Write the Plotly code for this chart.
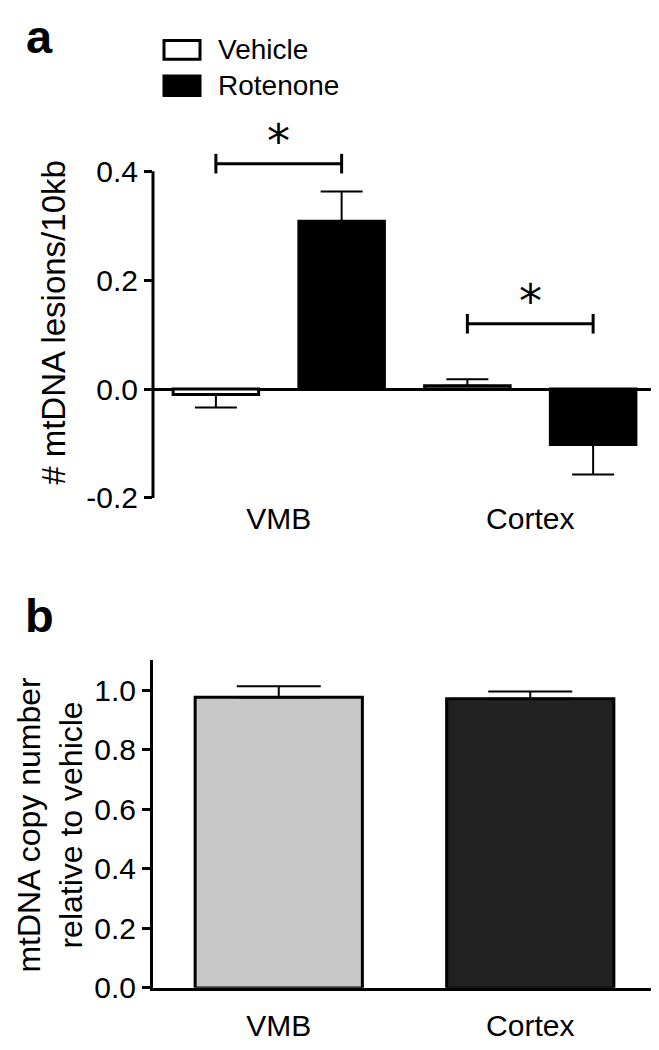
import plotly.graph_objects as go

# ---------------- data ----------------
regions = ["VMB", "Cortex"]
groups = ["Vehicle", "Rotenone"]

# panel a: mtDNA lesions / 10kb
lesions_vehicle = [-0.010, 0.006]
lesions_vehicle_err = [0.024, 0.012]
lesions_rotenone = [0.308, -0.102]
lesions_rotenone_err = [0.055, 0.055]
lesion_ticks = [-0.2, 0.0, 0.2, 0.4]
lesion_ticktext = ["-0.2", "0.0", "0.2", "0.4"]
sig_bracket_y = [0.414, 0.12]   # significance bracket heights per region

# panel b: mtDNA copy number relative to vehicle
copy_number = [0.976, 0.971]
copy_number_err = [0.037, 0.024]
copy_ticks = [0.0, 0.2, 0.4, 0.6, 0.8, 1.0]
copy_ticktext = ["0.0", "0.2", "0.4", "0.6", "0.8", "1.0"]

# ---------------- styling ----------------
W, H = 659, 1050
FONT = "Liberation Sans, Arial, Helvetica, sans-serif"
BLACK = "#000000"


def px(xp):
    return xp / W


def py(yp):
    return 1 - yp / H


def one_sided(vals, errs):
    up = [e if v >= 0 else 0 for v, e in zip(vals, errs)]
    down = [e if v < 0 else 0 for v, e in zip(vals, errs)]
    return up, down


fig = go.Figure()

vu, vd = one_sided(lesions_vehicle, lesions_vehicle_err)
fig.add_trace(go.Bar(
    x=regions, y=lesions_vehicle, name=groups[0],
    marker=dict(color="white", line=dict(color=BLACK, width=3)),
    error_y=dict(type="data", symmetric=False, array=vu, arrayminus=vd,
                 color=BLACK, thickness=2, width=21),
    xaxis="x", yaxis="y", showlegend=False,
))
ru, rd = one_sided(lesions_rotenone, lesions_rotenone_err)
fig.add_trace(go.Bar(
    x=regions, y=lesions_rotenone, name=groups[1],
    marker=dict(color=BLACK, line=dict(color=BLACK, width=3)),
    error_y=dict(type="data", symmetric=False, array=ru, arrayminus=rd,
                 color=BLACK, thickness=2, width=21),
    xaxis="x", yaxis="y", showlegend=False,
))

fig.add_trace(go.Bar(
    x=regions, y=copy_number, width=0.665,
    marker=dict(color=["#c8c8c8", "#222222"], line=dict(color=BLACK, width=3)),
    error_y=dict(type="data", symmetric=False, array=copy_number_err,
                 arrayminus=[0, 0], color=BLACK, thickness=2, width=42),
    xaxis="x2", yaxis="y2", showlegend=False,
))

x_dom = [px(145), px(648)]
tickfont = dict(family=FONT, size=30, color=BLACK)

fig.update_layout(
    width=W, height=H,
    margin=dict(l=0, r=0, t=0, b=0),
    paper_bgcolor="white", plot_bgcolor="white",
    barmode="group", bargap=0, bargroupgap=0.32,
    font=dict(family=FONT, color=BLACK),
    xaxis=dict(domain=x_dom, anchor="y", range=[-0.5, 1.5],
               showline=False, ticks="", showgrid=False, zeroline=False,
               tickfont=tickfont, ticklabelstandoff=0),
    yaxis=dict(domain=[py(498), py(138.3)], anchor="x", range=[-0.2, 0.45],
               tickvals=lesion_ticks, ticktext=lesion_ticktext,
               showline=False, ticks="outside", ticklen=8, tickwidth=3,
               tickcolor=BLACK, showgrid=False,
               zeroline=True, zerolinewidth=3, zerolinecolor=BLACK,
               tickfont=tickfont),
    xaxis2=dict(domain=x_dom, anchor="y2", range=[-0.5, 1.5],
                showline=True, linewidth=3, linecolor=BLACK, ticks="",
                showgrid=False, zeroline=False, tickfont=tickfont,
                ticklabelstandoff=9),
    yaxis2=dict(domain=[py(996), py(663)], anchor="x2", range=[0, 1.1],
                tickvals=copy_ticks, ticktext=copy_ticktext,
                showline=True, linewidth=3, linecolor=BLACK,
                ticks="outside", ticklen=8, tickwidth=3, tickcolor=BLACK,
                showgrid=False, zeroline=False, tickfont=tickfont),
)

shapes = []
# y-axis line of panel a (from -0.2 to 0.4)
shapes.append(dict(type="line", xref="paper", yref="y", x0=x_dom[0], x1=x_dom[0],
                   y0=lesion_ticks[0], y1=lesion_ticks[-1],
                   line=dict(color=BLACK, width=3)))
# significance brackets
cap = 0.018
annotations = []
for i, yb in enumerate(sig_bracket_y):
    xl, xr = i - 0.25, i + 0.25
    shapes.append(dict(type="line", xref="x", yref="y", x0=xl, x1=xr, y0=yb, y1=yb,
                       line=dict(color=BLACK, width=3)))
    for xx in (xl, xr):
        shapes.append(dict(type="line", xref="x", yref="y", x0=xx, x1=xx,
                           y0=yb - cap, y1=yb + cap, line=dict(color=BLACK, width=3)))
    annotations.append(dict(text="*", xref="x", yref="y", x=i, y=yb - 0.012,
                            xanchor="center", yanchor="bottom", showarrow=False,
                            font=dict(family="DejaVu Sans", size=46, color=BLACK)))

# legend (manual, wide boxes like the original)
legend_fill = ["white", BLACK]
legend_y = [(33, 52), (69, 89)]
for name, fill, (y0, y1) in zip(groups, legend_fill, legend_y):
    shapes.append(dict(type="rect", xref="paper", yref="paper",
                       x0=px(156), x1=px(192), y0=py(y1), y1=py(y0),
                       fillcolor=fill, line=dict(color=BLACK, width=3)))
    annotations.append(dict(text=name, xref="paper", yref="paper",
                            x=px(208), y=py((y0 + y1) / 2), xanchor="left",
                            yanchor="middle", showarrow=False,
                            font=dict(family=FONT, size=28, color=BLACK)))

# axis titles
annotations.append(dict(text="# mtDNA lesions/10kb", xref="paper", yref="paper",
                        x=px(46), y=py(320), textangle=-90, showarrow=False,
                        xanchor="center", yanchor="middle",
                        font=dict(family=FONT, size=33, color=BLACK)))
annotations.append(dict(text="mtDNA copy number<br>relative to vehicle",
                        xref="paper", yref="paper", x=px(42), y=py(830),
                        textangle=-90, showarrow=False, xanchor="center",
                        yanchor="middle",
                        font=dict(family=FONT, size=32, color=BLACK)))
# panel letters
annotations.append(dict(text="<b>a</b>", xref="paper", yref="paper", x=px(31), y=1,
                        showarrow=False, xanchor="center", yanchor="top",
                        font=dict(family=FONT, size=47, color=BLACK)))
annotations.append(dict(text="<b>b</b>", xref="paper", yref="paper", x=px(31), y=py(617),
                        showarrow=False, xanchor="center", yanchor="middle",
                        font=dict(family=FONT, size=47, color=BLACK)))

fig.update_layout(shapes=shapes, annotations=annotations)
fig.write_html("out.html")
